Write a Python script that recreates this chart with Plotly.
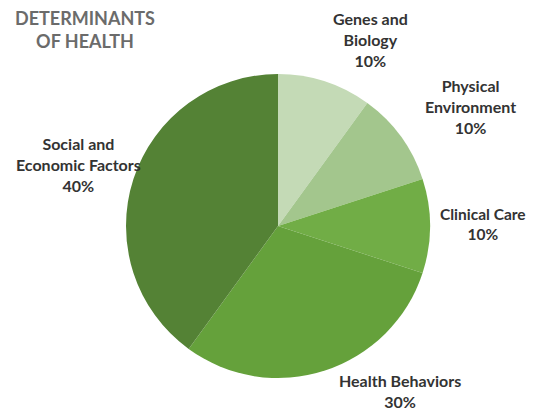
import plotly.graph_objects as go

categories = ["Genes and Biology", "Physical Environment", "Clinical Care", "Health Behaviors", "Social and Economic Factors"]
values = [10, 10, 10, 30, 40]
label_texts = ["Genes and<br>Biology", "Physical<br>Environment", "Clinical Care", "Health Behaviors", "Social and<br>Economic Factors"]
colors = ["#c4dab6", "#a3c68d", "#71ad46", "#65a13b", "#548235"]
title_text = "DETERMINANTS<br>OF HEALTH"

# the page body adds an 8px offset; work in viewport pixels and subtract it
OFF = 8
W, H = 539 - OFF, 410 - OFF
cx, cy, r = 278 - OFF, 226 - OFF, 152

fig = go.Figure(go.Pie(
    labels=categories, values=values, sort=False, direction="clockwise", rotation=0,
    marker=dict(colors=colors, line=dict(width=0)),
    textinfo="none", hoverinfo="label+percent", showlegend=False,
    domain=dict(x=[(cx - r) / W, (cx + r) / W], y=[1 - (cy + r) / H, 1 - (cy - r) / H]),
))

label_pos = [(370, 40), (470, 106), (483, 224), (400, 391), (78, 164)]
label_sizes = [16, 16, 15.5, 16, 16]
total = sum(values)
annotations = []
for txt, v, (px, py), fs in zip(label_texts, values, label_pos, label_sizes):
    annotations.append(dict(
        x=(px - OFF) / W, y=1 - (py - OFF) / H, xref="paper", yref="paper",
        xanchor="center", yanchor="middle",
        text=f"<b>{txt}<br>{round(100 * v / total)}%</b>", showarrow=False, align="center",
        font=dict(family="Lato", size=fs, color="#333333"),
    ))
annotations.append(dict(
    x=(85 - OFF) / W, y=1 - (30 - OFF) / H, xref="paper", yref="paper",
    xanchor="center", yanchor="middle",
    text=f"<b>{title_text}</b>", showarrow=False, align="center",
    font=dict(family="Lato", size=18, color="#6b6b6b"),
))

fig.update_layout(
    width=W, height=H, margin=dict(l=0, r=0, t=0, b=0),
    paper_bgcolor="white", plot_bgcolor="white", annotations=annotations,
)
fig.write_html("out.html")
